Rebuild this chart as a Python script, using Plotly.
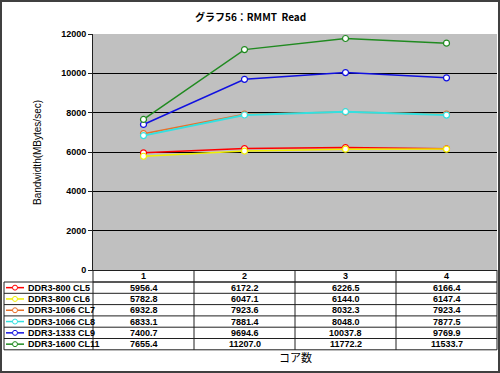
import plotly.graph_objects as go

categories = [1, 2, 3, 4]
series_names = ["DDR3-800 CL5", "DDR3-800 CL6", "DDR3-1066 CL7",
                "DDR3-1066 CL8", "DDR3-1333 CL9", "DDR3-1600 CL11"]
ddr3_800_cl5 = [5956.4, 6172.2, 6226.5, 6166.4]
ddr3_800_cl6 = [5782.8, 6047.1, 6144.0, 6147.4]
ddr3_1066_cl7 = [6932.8, 7923.6, 8032.3, 7923.4]
ddr3_1066_cl8 = [6833.1, 7881.4, 8048.0, 7877.5]
ddr3_1333_cl9 = [7400.7, 9694.6, 10037.8, 9769.9]
ddr3_1600_cl11 = [7655.4, 11207.0, 11772.2, 11533.7]
series_values = [ddr3_800_cl5, ddr3_800_cl6, ddr3_1066_cl7,
                 ddr3_1066_cl8, ddr3_1333_cl9, ddr3_1600_cl11]
colors = ["#ff0000", "#f0f000", "#e8702a", "#33e0e0", "#1010e0", "#208a20"]
widths = [1.5, 1.5, 1.5, 2, 1.5, 1.5]
y_ticks = [0, 2000, 4000, 6000, 8000, 10000, 12000]

W, H = 500, 373
L, R, T, B = 93, 497, 34, 270  # plot area pixel box

def px(x):
    return (x - L) / (R - L)

def py(y):
    return (B - y) / (B - T)

fig = go.Figure()
for name, vals, c, w in zip(series_names, series_values, colors, widths):
    fig.add_trace(go.Scatter(
        x=categories, y=vals, name=name, mode="lines+markers",
        line=dict(color=c, width=w),
        marker=dict(symbol="circle", size=6, color="white",
                    line=dict(color=c, width=1.2)),
        showlegend=False, cliponaxis=False))

numfont = dict(family="Liberation Sans, Arial", size=9, color="black")
shapes = []
ann = []
line_c = "#202020"

# table geometry
hdr_top, hdr_bot = 270, 282
row_h = 11.3
n = len(series_names)
tbl_bot = hdr_bot + row_h * n
lab_left = 4

shapes.append(dict(type="line", xref="paper", yref="paper", x0=px(L), x1=px(R),
                   y0=py(hdr_bot), y1=py(hdr_bot), line=dict(color=line_c, width=1)))
for i in range(n + 1):
    yy = hdr_bot + row_h * i
    shapes.append(dict(type="line", xref="paper", yref="paper", x0=px(lab_left), x1=px(R),
                       y0=py(yy), y1=py(yy), line=dict(color=line_c, width=1)))
shapes.append(dict(type="line", xref="paper", yref="paper", x0=px(lab_left), x1=px(lab_left),
                   y0=py(hdr_bot), y1=py(tbl_bot), line=dict(color=line_c, width=1)))
for k in range(len(categories) + 1):
    xx = L + (R - L) * k / len(categories)
    shapes.append(dict(type="line", xref="paper", yref="paper", x0=px(xx), x1=px(xx),
                       y0=py(hdr_top), y1=py(tbl_bot), line=dict(color=line_c, width=1)))

for c in categories:
    ann.append(dict(x=c, xref="x", y=py((hdr_top + hdr_bot) / 2), yref="paper",
                    text=f"<b>{c}</b>", showarrow=False, font=numfont,
                    xanchor="center", yanchor="middle"))

for i, (name, vals, col) in enumerate(zip(series_names, series_values, colors)):
    yc = hdr_bot + row_h * i + row_h / 2
    shapes.append(dict(type="line", xref="paper", yref="paper", x0=px(6), x1=px(24),
                       y0=py(yc), y1=py(yc), line=dict(color=col, width=1.5)))
    shapes.append(dict(type="circle", xref="paper", yref="paper", x0=px(12.5), x1=px(17.5),
                       y0=py(yc + 2.5), y1=py(yc - 2.5), fillcolor="white",
                       line=dict(color=col, width=1)))
    ann.append(dict(x=px(26), xref="paper", y=py(yc), yref="paper",
                    text=f"<b>{name}</b>", showarrow=False, font=numfont,
                    xanchor="left", yanchor="middle"))
    for c, v in zip(categories, vals):
        ann.append(dict(x=c, xref="x", y=py(yc), yref="paper",
                        text=f"<b>{v:.1f}</b>", showarrow=False, font=numfont,
                        xanchor="center", yanchor="middle"))

ann.append(dict(x=px((L + R) / 2), xref="paper", y=py(357), yref="paper",
                text="コア数", showarrow=False,
                font=dict(family="Noto Sans CJK JP", size=11, color="black"),
                xanchor="center", yanchor="middle"))
ann.append(dict(x=px(37), xref="paper", y=py((T + B) / 2), yref="paper",
                text="Bandwidth(MBytes/sec)", showarrow=False, textangle=-90,
                font=dict(family="Liberation Sans, Arial", size=10, color="black"),
                xanchor="center", yanchor="middle"))
ann.append(dict(x=px(250), xref="paper", y=py(17), yref="paper",
                text="<b>グラフ56：RMMT  Read</b>", showarrow=False,
                font=dict(family="Noto Sans CJK JP", size=10, color="black"),
                xanchor="center", yanchor="middle"))

shapes.append(dict(type="rect", xref="paper", yref="paper", x0=px(1), x1=px(499),
                   y0=py(372), y1=py(1), line=dict(color="#404040", width=2),
                   fillcolor="rgba(0,0,0,0)"))

fig.update_layout(
    width=W, height=H,
    margin=dict(l=L, r=W - R, t=T, b=H - B, pad=0),
    paper_bgcolor="white", plot_bgcolor="#c0c0c0",
    xaxis=dict(range=[0.5, 4.5], showticklabels=False, showgrid=False,
               zeroline=False, showline=True, linecolor=line_c, linewidth=1,
               ticks="", fixedrange=True),
    yaxis=dict(range=[0, 12000], tickvals=y_ticks,
               ticktext=[f"<b>{v}</b>" for v in y_ticks],
               showgrid=True, gridcolor="black", gridwidth=1,
               zeroline=False, showline=True, linecolor=line_c, linewidth=1,
               ticks="outside", ticklen=4, tickcolor=line_c,
               tickfont=numfont, fixedrange=True),
    shapes=shapes, annotations=ann, showlegend=False,
)

fig.write_html("out.html", config={"displayModeBar": False},
               post_script="document.body.style.margin='0';document.body.style.overflow='hidden';")
